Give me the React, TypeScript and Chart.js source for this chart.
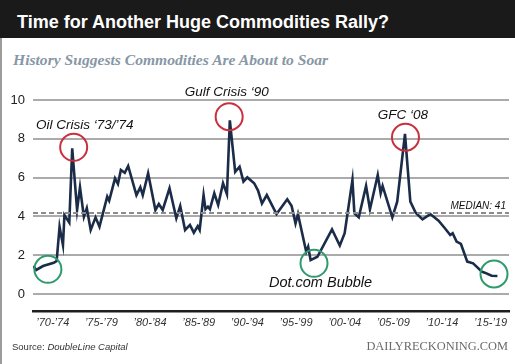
import React, { useEffect, useRef } from "react";
import { Chart, registerables } from "chart.js";

Chart.register(...registerables);

// ---- Data ----
const years = [
  1970.0, 1970.3, 1971.0, 1972.1, 1972.4, 1972.7, 1973.05, 1973.2, 1973.7, 1974.0,
  1974.5, 1974.8, 1975.2, 1975.5, 1975.9, 1976.4, 1976.8, 1977.6, 1977.8, 1978.4,
  1978.7, 1979.0, 1979.4, 1979.75, 1980.6, 1981.0, 1981.25, 1981.8, 1982.55, 1982.9,
  1983.3, 1984.0, 1984.7, 1985.1, 1985.6, 1986.1, 1986.5, 1986.9, 1987.1, 1987.5,
  1987.7, 1987.95, 1988.15, 1988.6, 1989.0, 1989.5, 1989.9, 1990.2, 1990.75, 1991.2,
  1991.6, 1992.0, 1992.7, 1993.1, 1993.5, 1994.0, 1995.0, 1996.1, 1996.55, 1996.95,
  1997.2, 1998.05, 1998.25, 1998.5, 1999.2, 2000.7, 2001.5, 2002.0, 2002.8, 2003.0,
  2003.45, 2004.2, 2004.6, 2005.4, 2005.7, 2005.9, 2006.9, 2007.4, 2008.2, 2008.75,
  2009.3, 2010.0, 2010.8, 2011.65, 2012.3, 2012.85, 2013.1, 2013.5, 2013.95, 2014.6,
  2015.2, 2016.1, 2016.4, 2017.1, 2017.7,
];
const values = [
  1.44, 1.24, 1.44, 1.61, 1.7, 3.47, 2.52, 4.07, 3.68, 7.51,
  4.33, 5.5, 3.98, 4.42, 3.3, 3.95, 3.47, 5.02, 4.81, 5.96,
  5.67, 6.39, 6.25, 6.6, 5.1, 5.5, 5.1, 6.22, 4.33, 4.64,
  4.33, 5.45, 3.9, 4.54, 3.3, 3.56, 3.16, 3.5, 3.3, 5.1,
  4.37, 4.5, 4.37, 5.19, 4.59, 5.71, 5.15, 8.95, 6.3, 6.56,
  5.79, 6.01, 5.71, 5.33, 4.67, 5.1, 4.12, 4.88, 4.54, 3.64,
  4.12, 2.18, 2.44, 1.75, 1.92, 3.33, 2.5, 3.13, 5.88, 4.16,
  3.95, 5.57, 4.37, 6.13, 5.19, 5.57, 3.95, 4.76, 8.25, 4.76,
  4.19, 3.85, 4.12, 3.78, 3.39, 3.04, 3.13, 2.7, 2.58, 1.67,
  1.58, 1.15, 1.1, 0.94, 0.93,
];
const medianValue = 4.17;
const medianLabel = "MEDIAN: 41";
const yTicks = [0, 2, 4, 6, 8, 10];
const xTickYears = [1972, 1977, 1982, 1987, 1992, 1997, 2002, 2007, 2012, 2017];
const xTickLabels = [
  "’70-’74", "’75-’79", "’80-’84", "’85-’89", "’90-’94",
  "’95-’99", "’00-’04", "’05-’09", "’10-’14", "’15-’19",
];

const X_MIN = 1969.97;
const X_MAX = 2018.89;
const Y_MIN = -0.876;
const Y_MAX = 10;

// events: circles around peaks / troughs, with labels
const circleEvents = [
  { year: 1974.15, value: 7.56, kind: "peak" },
  { year: 1990.13, value: 9.14, kind: "peak" },
  { year: 2008.25, value: 8.08, kind: "peak" },
  { year: 1971.5, value: 1.27, kind: "trough" },
  { year: 1998.85, value: 1.58, kind: "trough" },
  { year: 2017.35, value: 1.03, kind: "trough" },
];
const eventLabels = [
  { text: "Oil Crisis ‘73/’74", year: 1975.28, value: 8.71 },
  { text: "Gulf Crisis ‘90", year: 1989.88, value: 10.38 },
  { text: "GFC ‘08", year: 2007.98, value: 9.23 },
  { text: "Dot.com Bubble", year: 1999.52, value: 0.55 },
];

const SANS = "'Liberation Sans', Arial, Helvetica, sans-serif";
const SERIF = "'Liberation Serif', 'Times New Roman', serif";

const annotationPlugin = {
  id: "annotations",
  afterDatasetsDraw(chart: any) {
    const { ctx, scales } = chart;
    const xs = scales.x;
    const ys = scales.y;
    ctx.save();
    // circles
    circleEvents.forEach((c) => {
      const cx = xs.getPixelForValue(c.year);
      const cy = ys.getPixelForValue(c.value);
      ctx.beginPath();
      ctx.arc(cx, cy, 13.5, 0, Math.PI * 2);
      ctx.lineWidth = 2;
      ctx.strokeStyle = c.kind === "peak" ? "#c9303e" : "#2f9a6c";
      ctx.stroke();
    });
    // labels
    ctx.fillStyle = "#111";
    ctx.textAlign = "center";
    ctx.textBaseline = "middle";
    eventLabels.forEach((l) => {
      const size = l.text.startsWith("Dot") ? 14.5 : 13.5;
      ctx.font = `italic ${size}px ${SANS}`;
      ctx.fillText(l.text, xs.getPixelForValue(l.year), ys.getPixelForValue(l.value));
    });
    // median label
    ctx.font = `italic 10px ${SANS}`;
    ctx.textAlign = "right";
    ctx.fillStyle = "#111";
    ctx.fillText(medianLabel, xs.getPixelForValue(2018.58), ys.getPixelForValue(4.5));
    ctx.restore();
  },
};

function CommodityChart() {
  const ref = useRef<HTMLCanvasElement | null>(null);
  useEffect(() => {
    if (!ref.current) return;
    const points = years.map((y, i) => ({ x: y, y: values[i] }));
    const chart = new Chart(ref.current, {
      type: "line",
      data: {
        datasets: [
          {
            data: [
              { x: X_MIN, y: medianValue },
              { x: X_MAX, y: medianValue },
            ],
            borderColor: "#8c8c8c",
            borderWidth: 2,
            borderDash: [5, 3],
            pointRadius: 0,
            tension: 0,
          },
          {
            data: points,
            borderColor: "#1b2c48",
            borderWidth: 2.6,
            pointRadius: 0,
            tension: 0,
            borderJoinStyle: "miter",
          },
        ],
      },
      options: {
        animation: false,
        responsive: false,
        maintainAspectRatio: false,
        layout: { padding: { top: 100, right: 6, left: 0, bottom: 0 } },
        plugins: {
          legend: { display: false },
          tooltip: { enabled: false },
        },
        scales: {
          x: {
            type: "linear",
            min: X_MIN,
            max: X_MAX,
            afterBuildTicks: (s: any) => {
              s.ticks = xTickYears.map((v) => ({ value: v }));
            },
            afterFit: (s: any) => {
              s.height = 53;
            },
            ticks: {
              autoSkip: false,
              maxRotation: 0,
              padding: 5,
              color: "#333",
              font: { family: SANS, size: 11, style: "italic" },
              callback: (_v: any, i: number) => xTickLabels[i],
            },
            grid: { display: false, drawTicks: false },
            border: { display: true, color: "#1e1e1e", width: 2.5 },
          },
          y: {
            min: Y_MIN,
            max: Y_MAX,
            afterBuildTicks: (s: any) => {
              s.ticks = yTicks.map((v) => ({ value: v }));
            },
            afterFit: (s: any) => {
              s.width = 33;
            },
            ticks: {
              padding: 8,
              color: "#222",
              font: { family: SANS, size: 13 },
            },
            grid: { color: "#ababab", lineWidth: 2, drawTicks: false },
            border: { display: false },
          },
        },
      },
      plugins: [annotationPlugin],
    } as any);
    return () => chart.destroy();
  }, []);
  return (
    <canvas
      ref={ref}
      width={515}
      height={364}
      style={{ position: "absolute", left: 0, top: 0, width: 515, height: 364 }}
    />
  );
}

export default function App() {
  return (
    <div
      style={{
        position: "fixed",
        left: 0,
        top: 0,
        width: 515,
        height: 364,
        background: "#fff",
        overflow: "hidden",
      }}
    >
      <div
        style={{
          position: "absolute",
          left: 0,
          top: 0,
          width: 515,
          height: 38,
          background: "#1b1a1b",
        }}
      />
      <div
        style={{
          position: "absolute",
          left: 0,
          top: 38,
          width: 2,
          height: 326,
          background: "#9c9c9c",
        }}
      />
      <div
        style={{
          position: "absolute",
          left: 17,
          top: 12.7,
          font: `bold 18px/18px ${SANS}`,
          color: "#fff",
          whiteSpace: "nowrap",
        }}
      >
        Time for Another Huge Commodities Rally?
      </div>
      <div
        style={{
          position: "absolute",
          left: 13,
          top: 52.2,
          font: `italic bold 15.6px/15.6px ${SERIF}`,
          color: "#8797a5",
          whiteSpace: "nowrap",
        }}
      >
        History Suggests Commodities Are About to Soar
      </div>
      <CommodityChart />
      <div
        style={{
          position: "absolute",
          left: 12,
          top: 341.5,
          font: `9.5px/10px ${SANS}`,
          color: "#333",
          whiteSpace: "nowrap",
        }}
      >
        Source: <span style={{ fontStyle: "italic" }}>DoubleLine Capital</span>
      </div>
      <div
        style={{
          position: "absolute",
          right: 7,
          top: 339.5,
          font: `12.4px/13px ${SERIF}`,
          color: "#6a6a6a",
          whiteSpace: "nowrap",
        }}
      >
        DAILYRECKONING.COM
      </div>
    </div>
  );
}
